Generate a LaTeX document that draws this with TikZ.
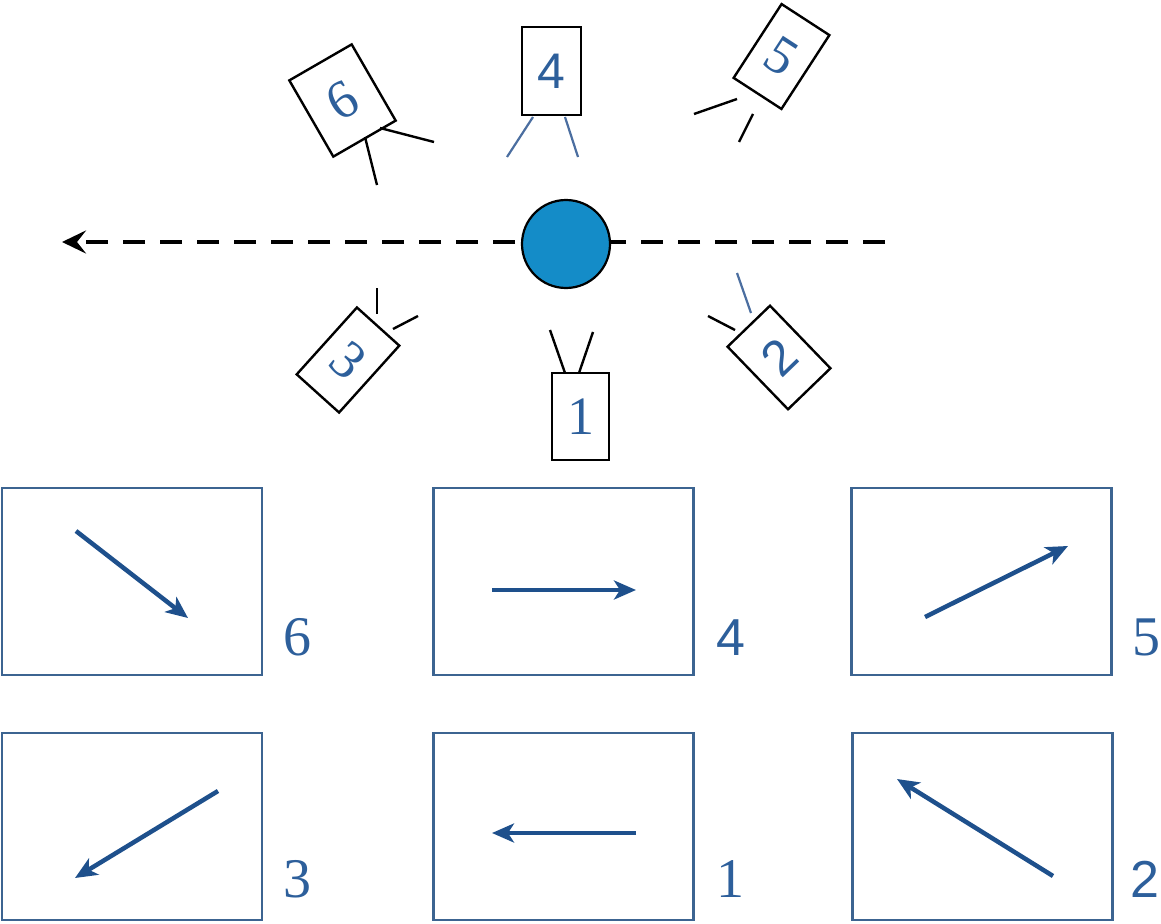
\documentclass[tikz,border=0pt]{standalone}
\usepackage{fontspec}
\newfontfamily\sansdigits{Liberation Sans}
\newfontfamily\serifdigits{Liberation Serif}
\usetikzlibrary{arrows.meta}
\definecolor{digitblue}{RGB}{45,95,155}
\definecolor{legblue}{RGB}{75,110,160}
\definecolor{frameblue}{RGB}{60,100,145}
\definecolor{arrowblue}{RGB}{30,80,140}
\definecolor{ballblue}{RGB}{20,140,200}
\begin{document}
\begin{tikzpicture}[x=1pt,y=-1pt,
  cam/.style={draw=black, line width=2.4pt, fill=white, inner sep=0pt,
    text=digitblue, font=\serifdigits\fontsize{54}{54}\selectfont},
  samcam/.style={cam, font=\sansdigits\fontsize{50}{50}\selectfont},
  leg/.style={line width=2.4pt, draw=black},
  blueleg/.style={line width=2.2pt, draw=legblue},
  panel/.style={draw=frameblue, line width=2.6pt, minimum width=260pt,
    minimum height=187pt, inner sep=0pt},
  motion/.style={-{Stealth[length=22pt,width=19pt,inset=6pt]}, line width=4.5pt, draw=arrowblue},
  plabel/.style={text=digitblue, anchor=base west, inner sep=0pt,
    font=\serifdigits\fontsize{56}{56}\selectfont},
  splabel/.style={plabel, font=\sansdigits\fontsize{52}{52}\selectfont},
  track/.style={line width=4pt, dash pattern=on 22pt off 15pt,
    -{Stealth[length=24pt,width=23pt,inset=9pt]}}]
\useasboundingbox (0,0) rectangle (1161,923);

% path of the moving object
\coordinate (trackstart) at (885,242);
\coordinate (trackend) at (62,242);
\draw[track] (trackstart) -- (trackend);
\node[circle, draw=black, line width=2.2pt, fill=ballblue, minimum size=88pt,
  inner sep=0pt] (ball) at (566,244) {};

% camera 4 (top)
\node[samcam, minimum width=59pt, minimum height=88pt] (c4) at (551.5,71) {4};
\draw[blueleg] (533,117) -- (507,157);
\draw[blueleg] (565,117) -- (578,157);

% camera 6 (top left)
\node[cam, minimum width=72pt, minimum height=88pt, rotate=30] (c6) at (342.5,100.5) {6};
\draw[leg] (365,137) -- (377,185);
\draw[leg] (380,128) -- (434,142);

% camera 5 (top right)
\node[cam, minimum width=57pt, minimum height=88pt, rotate=-33] (c5) at (781.5,56.5) {5};
\draw[leg] (737,99) -- (694,114);
\draw[leg] (753,114) -- (739,142);

% camera 3 (bottom left)
\node[cam, minimum width=57pt, minimum height=90pt, rotate=-42] (c3) at (348,360) {3};
\draw[leg] (377,288) -- (377,314);
\draw[leg] (393,329) -- (418,316);

% camera 1 (bottom)
\node[cam, minimum width=57pt, minimum height=87pt] (c1) at (580.5,416.5) {1};
\draw[leg] (565,373) -- (550,330);
\draw[leg] (579,373) -- (593,332);

% camera 2 (bottom right)
\node[samcam, minimum width=59pt, minimum height=87pt, rotate=44] (c2) at (779,357.5) {2};
\draw[blueleg] (751,313) -- (737,273);
\draw[leg] (735,330) -- (708,316);

% views seen by the cameras
\node[panel] (p6) at (132,581.5) {};
\node[panel] (p4) at (563.5,581.5) {};
\node[panel] (p5) at (981.5,581.5) {};
\node[panel] (p3) at (132,826.5) {};
\node[panel] (p1) at (563.5,826.5) {};
\node[panel] (p2) at (982.5,826.5) {};

\node[plabel] (l6) at (283,655) {6};
\node[splabel] (l4) at (716,655) {4};
\node[plabel] (l5) at (1132,655) {5};
\node[plabel] (l3) at (283,897) {3};
\node[plabel] (l1) at (716,897) {1};
\node[splabel] (l2) at (1130,897) {2};

% apparent motion in each view
\coordinate (a6s) at (76,531);   \coordinate (a6e) at (188,618);
\coordinate (a4s) at (492,590);  \coordinate (a4e) at (636,590);
\coordinate (a5s) at (925,617);  \coordinate (a5e) at (1068,546);
\coordinate (a3s) at (218,791);  \coordinate (a3e) at (75,878);
\coordinate (a1s) at (636,833);  \coordinate (a1e) at (492,833);
\coordinate (a2s) at (1053,876); \coordinate (a2e) at (897,779);
\draw[motion] (a6s) -- (a6e);
\draw[motion] (a4s) -- (a4e);
\draw[motion] (a5s) -- (a5e);
\draw[motion] (a3s) -- (a3e);
\draw[motion] (a1s) -- (a1e);
\draw[motion] (a2s) -- (a2e);
\end{tikzpicture}
\end{document}
